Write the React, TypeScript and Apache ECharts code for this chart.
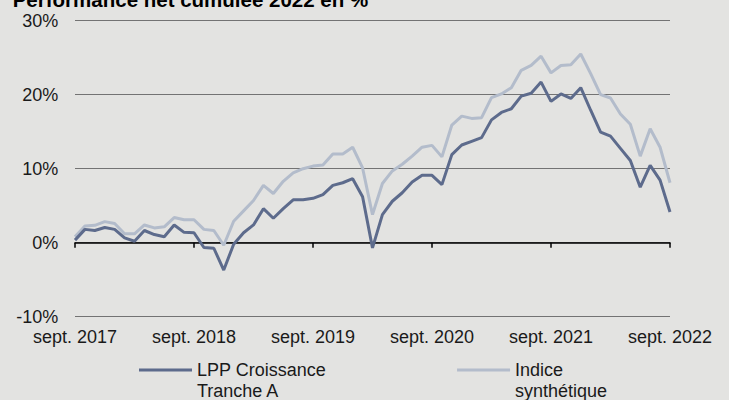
import React, { useEffect, useRef } from "react";
import * as echarts from "echarts";

const MONTHS = ["sept.", "oct.", "nov.", "déc.", "janv.", "févr.", "mars", "avr.", "mai", "juin", "juil.", "août"];
const START_YEAR = 2017;
const N_POINTS = 61;
const categories: string[] = [];
for (let i = 0; i < N_POINTS; i++) {
  const m = i % 12;
  const year = START_YEAR + Math.floor((i + 8) / 12);
  categories.push(`${MONTHS[m]} ${year}`);
}

const seriesNames = ["LPP Croissance\nTranche A", "Indice\nsynthétique"];

const lppCroissance = [
  0.35, 1.8, 1.65, 2.05, 1.8, 0.65, 0.2, 1.65, 1.1, 0.8, 2.4, 1.4, 1.35,
  -0.65, -0.75, -3.7, -0.2, 1.35, 2.4, 4.6, 3.3, 4.6, 5.8, 5.8, 6.0,
  6.5, 7.75, 8.1, 8.65, 6.2, -0.7, 3.8, 5.6, 6.75, 8.2, 9.1, 9.1,
  7.85, 11.9, 13.2, 13.7, 14.2, 16.6, 17.6, 18.1, 19.8, 20.2, 21.7, 19.1,
  20.1, 19.5, 20.95, 17.9, 14.95, 14.4, 12.75, 11.1, 7.5, 10.45, 8.45, 4.15,
];

const indiceSynthetique = [
  0.8, 2.25, 2.35, 2.85, 2.6, 1.2, 1.2, 2.4, 2.0, 2.15, 3.4, 3.1, 3.1,
  1.8, 1.65, -0.35, 2.9, 4.3, 5.7, 7.75, 6.65, 8.3, 9.45, 10.0, 10.35,
  10.5, 12.0, 12.0, 12.9, 10.1, 3.8, 8.0, 9.7, 10.6, 11.7, 12.9, 13.15,
  11.6, 15.9, 17.1, 16.8, 16.9, 19.6, 20.1, 20.95, 23.3, 23.95, 25.2, 22.95,
  23.95, 24.05, 25.5, 22.85, 20.0, 19.55, 17.4, 16.0, 11.7, 15.4, 12.9, 8.1,
];

const titleText = "Performance net cumulée 2022 en %";

const FONT = "'Liberation Sans', Arial, Helvetica, sans-serif";
const DARK = "#5d6b8c";
const LIGHT = "#b3bccb";
const BG = "#e3e3e1";
const TEXT = "#1a1a1a";

export default function App() {
  const ref = useRef<HTMLDivElement>(null);
  useEffect(() => {
    if (!ref.current) return;
    const chart = echarts.init(ref.current, null, { renderer: "svg" });
    chart.setOption({
      animation: false,
      backgroundColor: BG,
      textStyle: { fontFamily: FONT },
      graphic: [
        {
          type: "text",
          x: 12.7,
          y: -1.0,
          style: {
            text: titleText,
            font: `bold 20.5px ${FONT}`,
            fill: "#000",
            verticalAlign: "middle",
            align: "left",
          },
        },
      ],
      grid: { left: 75, right: 59, top: 20.7, height: 296, containLabel: false },
      legend: {
        data: [seriesNames[0], seriesNames[1]],
        left: 139,
        top: 338.5,
        padding: 0,
        icon: "rect",
        itemWidth: 53,
        itemHeight: 3,
        itemGap: 131,
        formatter: (name: string) => "\n" + name,
        textStyle: {
          fontFamily: FONT,
          fontSize: 18,
          color: TEXT,
          lineHeight: 21,
        },
      },
      xAxis: [
        {
          type: "category",
          data: categories,
          boundaryGap: false,
          position: "bottom",
          axisLine: { show: false, onZero: false },
          axisTick: { show: false },
          splitLine: { show: false },
          axisLabel: {
            interval: 11,
            margin: 11,
            fontSize: 18,
            color: TEXT,
            fontFamily: FONT,
          },
        },
        {
          type: "category",
          data: categories,
          boundaryGap: false,
          position: "bottom",
          axisLine: { show: true, onZero: true, lineStyle: { color: "#000", width: 1.5 } },
          axisTick: { show: true, interval: 11, length: 5, lineStyle: { color: "#000", width: 1.5 } },
          axisLabel: { show: false },
          splitLine: { show: false },
        },
      ],
      yAxis: {
        type: "value",
        min: -10,
        max: 30,
        interval: 10,
        axisLine: { show: false },
        axisTick: { show: false },
        axisLabel: {
          formatter: "{value}%",
          margin: 16.7,
          fontSize: 18,
          color: TEXT,
          fontFamily: FONT,
        },
        splitLine: { lineStyle: { color: "#737373", width: 1.2 } },
      },
      series: [
        {
          name: seriesNames[1],
          type: "line",
          data: indiceSynthetique,
          xAxisIndex: 0,
          showSymbol: false,
          symbol: "none",
          lineStyle: { color: LIGHT, width: 3 },
          itemStyle: { color: LIGHT },
        },
        {
          name: seriesNames[0],
          type: "line",
          data: lppCroissance,
          xAxisIndex: 0,
          showSymbol: false,
          symbol: "none",
          lineStyle: { color: DARK, width: 3 },
          itemStyle: { color: DARK },
        },
      ],
    });
    return () => chart.dispose();
  }, []);
  return (
    <div
      ref={ref}
      style={{ position: "fixed", left: 0, top: 0, width: 729, height: 400 }}
    />
  );
}
